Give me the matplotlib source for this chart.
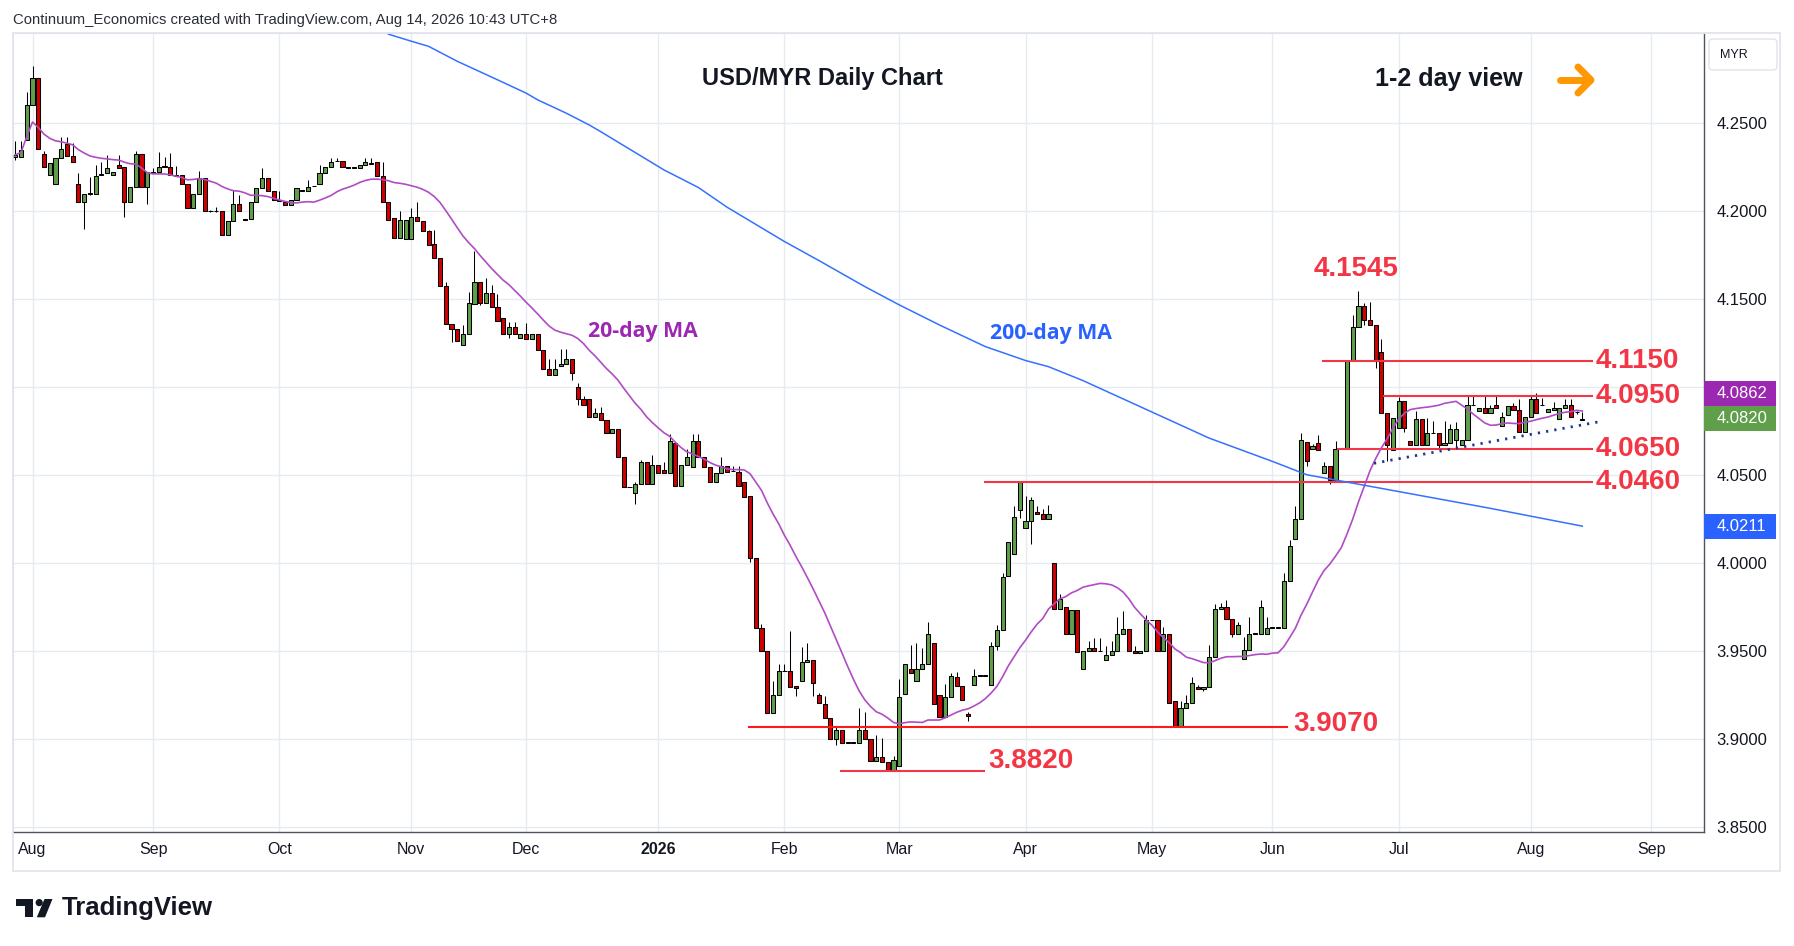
import numpy as np
import pandas as pd
import matplotlib
matplotlib.use("Agg")
import matplotlib.pyplot as plt
from matplotlib.patches import Rectangle, FancyBboxPatch, Circle, Polygon

plt.rcParams["font.family"] = ["Liberation Sans", "DejaVu Sans"]

# ==========================================
# USD/MYR DAILY DATA
# ==========================================

first_day = "2025-07-29"
last_day = "2026-08-14"

opens = [
    4.231, 4.231, 4.2405, 4.2601, 4.2757, 4.2325, 4.2205, 4.2155, 4.230, 4.238,
    4.2314, 4.2155, 4.205, 4.210, 4.210, 4.2205, 4.222, 4.2205, 4.2262, 4.2249,
    4.205, 4.214, 4.2325, 4.214, 4.2222, 4.2222, 4.2253, 4.2253, 4.2204, 4.2204,
    4.2155, 4.2021, 4.210, 4.219, 4.2002, 4.2002, 4.200, 4.1867, 4.1945, 4.204,
    4.1957, 4.1956, 4.205, 4.213, 4.219, 4.2116, 4.2065, 4.205, 4.2035, 4.2063,
    4.2118, 4.2116, 4.2145, 4.2155, 4.222, 4.2253, 4.2287, 4.2285, 4.2251, 4.2249,
    4.2245, 4.2262, 4.2274, 4.228, 4.220, 4.205, 4.196, 4.185, 4.184, 4.184,
    4.197, 4.1945, 4.189, 4.1814, 4.1733, 4.1576, 4.136, 4.133, 4.1241, 4.130,
    4.1472, 4.160, 4.1481, 4.1538, 4.1458, 4.1392, 4.130, 4.1341, 4.1278, 4.130,
    4.1273, 4.130, 4.1212, 4.1102, 4.107, 4.1121, 4.1131, 4.1159, 4.100, 4.0932,
    4.0932, 4.083, 4.0856, 4.0814, 4.0739, 4.0761, 4.0602, 4.0434, 4.0398, 4.0449,
    4.0578, 4.0449, 4.0559, 4.053, 4.0515, 4.0686, 4.044, 4.0559, 4.0549, 4.0697,
    4.0602, 4.0549, 4.046, 4.0515, 4.0553, 4.0525, 4.0519, 4.0462, 4.0381, 4.0029,
    3.9632, 3.950, 3.915, 3.9254, 3.9389, 3.9387, 3.930, 3.9334, 3.944, 3.9453,
    3.9254, 3.9203, 3.9122, 3.8999, 3.905, 3.8982, 3.8982, 3.898, 3.905, 3.8999,
    3.8876, 3.890, 3.8872, 3.8825, 3.8848, 3.9257, 3.940, 3.9334, 3.940, 3.9425,
    3.9547, 3.9254, 3.9128, 3.9241, 3.9356, 3.9303, 3.9141, 3.9311, 3.9364, 3.9364,
    3.9307, 3.9529, 3.9623, 3.9929, 4.0054, 4.0303, 4.0199, 4.024, 4.0291, 4.028,
    4.0252, 4.0002, 3.9741, 3.9751, 3.9601, 3.9732, 3.9401, 3.9501, 3.952, 3.9502,
    3.945, 3.948, 3.9501, 3.960, 3.9624, 3.9501, 3.9492, 3.9501, 3.9677, 3.9675,
    3.9501, 3.960, 3.9218, 3.9076, 3.918, 3.9205, 3.9299, 3.9284, 3.9299, 3.9469,
    3.9741, 3.9752, 3.9681, 3.960, 3.9454, 3.9507, 3.9602, 3.960, 3.960, 3.9636,
    3.9636, 3.9634, 3.9898, 4.0138, 4.0252, 4.0688, 4.065, 4.0682, 4.0515, 4.055,
    4.0474, 4.0652, 4.065, 4.115, 4.1341, 4.1462, 4.1383, 4.1352, 4.1199, 4.0852,
    4.0644, 4.0767, 4.0922, 4.0697, 4.0672, 4.082, 4.0672, 4.0741, 4.0739, 4.0672,
    4.0686, 4.0701, 4.0672, 4.0701, 4.0902, 4.0863, 4.0881, 4.0853, 4.090, 4.078,
    4.0843, 4.0894, 4.0871, 4.0748, 4.083, 4.0932, 4.0902, 4.0858, 4.0871, 4.082,
    4.0881, 4.09, 4.0858, 4.0816,
]

# None = no wick beyond the body
highs = [
    4.240, 4.240, 4.268, 4.2823, None, 4.234, None, None, 4.242, 4.242,
    4.239, 4.222, None, 4.2196, 4.226, 4.2282, 4.232, None, 4.232, None,
    None, 4.234, None, None, 4.2245, 4.2335, 4.231, 4.233, 4.2258, None,
    None, None, 4.223, None, 4.2008, 4.2025, None, None, 4.212, 4.209,
    None, None, None, 4.2245, None, None, 4.2116, None, None, None,
    None, 4.218, None, 4.226, None, 4.230, 4.230, None, None, None,
    None, 4.230, 4.230, None, 4.228, None, None, 4.200, None, 4.202,
    4.2054, None, 4.1895, 4.1894, None, 4.160, None, None, 4.1354, 4.1544,
    4.1776, None, 4.162, 4.158, 4.1529, None, 4.1373, 4.137, None, 4.1363,
    None, None, None, 4.1159, 4.1159, 4.1216, 4.1216, None, 4.1027, 4.095,
    None, 4.088, 4.089, None, None, None, None, None, 4.0459, 4.0587,
    None, 4.0616, None, 4.0578, 4.0737, None, None, 4.0649, 4.0737, 4.0737,
    None, None, None, 4.0606, None, 4.055, 4.0553, None, None, None,
    3.9655, None, 3.9334, 3.9425, 3.9425, 3.9613, None, 3.9526, 3.9545, None,
    3.9264, 3.9245, None, 3.9075, None, None, None, 3.9177, 3.9156, None,
    3.9025, 3.9005, None, 3.8904, 3.934, None, 3.9537, 3.9545, 3.9517, 3.9665,
    None, None, 3.9312, 3.9378, 3.9384, None, 3.9157, 3.940, None, None,
    3.9555, 3.9648, 3.9943, None, 4.0323, 4.0465, 4.0382, 4.0376, 4.0323, 4.0306,
    4.0331, None, 3.9826, None, None, None, None, 3.9558, 3.9577, 3.9577,
    3.953, 3.9558, 3.9693, 3.973, None, 3.9529, None, 3.9708, None, None,
    3.9637, None, None, 3.9218, 3.925, 3.9353, 3.9311, None, 3.9536, 3.9769,
    3.9772, 3.9792, None, 3.9665, 3.9583, 3.9694, None, 3.9792, 3.9694, None,
    None, 3.9944, 4.0133, 4.0325, 4.0738, None, 4.068, 4.0727, 4.0577, None,
    4.0695, None, None, 4.1409, 4.1545, 4.148, 4.1485, None, 4.1277, None,
    None, 4.0945, None, None, 4.0866, None, 4.0828, 4.0811, None, 4.0806,
    4.079, 4.0801, None, 4.0955, 4.0955, None, 4.0955, 4.0902, 4.0955, 4.086,
    None, 4.091, 4.0935, None, 4.0955, 4.0966, 4.0937, None, 4.0918, None,
    4.0935, 4.0935, 4.0866, 4.0858,
]

lows = [
    4.229, None, None, None, None, None, None, None, None, None,
    None, None, 4.190, 4.2095, None, None, None, None, None, 4.197,
    None, None, None, 4.204, 4.2215, None, None, None, None, None,
    None, None, None, None, 4.1995, 4.1995, None, None, None, None,
    None, None, None, None, None, None, None, None, None, None,
    None, None, None, None, None, None, None, None, None, None,
    None, None, None, None, None, None, None, None, None, None,
    None, None, None, None, None, None, 4.126, None, None, None,
    None, 4.147, None, None, None, None, 4.128, None, None, None,
    None, None, None, None, None, None, None, 4.104, 4.090, None,
    None, None, None, None, None, None, None, None, 4.0335, None,
    None, None, None, None, None, None, None, None, None, None,
    None, None, None, None, None, None, None, None, 4.0006, None,
    None, None, None, None, None, None, 3.9245, None, None, 3.9245,
    None, None, None, 3.8965, None, None, None, None, None, None,
    None, None, 3.882, None, None, None, None, None, None, None,
    None, None, None, None, None, None, 3.9105, None, None, None,
    None, 3.9505, None, None, None, 4.0257, None, 4.0112, None, None,
    None, None, None, None, None, None, None, None, None, None,
    None, None, None, None, None, None, None, None, None, None,
    None, None, 3.907, None, None, None, None, 3.9277, None, None,
    None, None, 3.958, None, None, None, None, None, None, None,
    None, None, None, None, None, 4.055, None, None, None, 4.045,
    None, None, None, None, None, 4.1356, None, 4.111, None, 4.0583,
    None, None, 4.0748, None, None, None, None, None, 4.0653, None,
    None, 4.0659, None, None, None, None, None, None, None, None,
    None, None, None, None, None, None, None, None, None, None,
    None, None, 4.085, None,
]

closes = [
    4.232, 4.235, 4.2601, 4.2757, 4.2352, 4.2249, 4.2272, 4.230, 4.2352, 4.2314,
    4.2282, 4.205, 4.210, 4.2102, 4.220, 4.221, 4.2245, 4.2223, 4.2247, 4.205,
    4.214, 4.2325, 4.214, 4.2225, 4.2220, 4.2253, 4.2255, 4.2204, 4.2202, 4.2155,
    4.2021, 4.210, 4.219, 4.200, 4.2000, 4.2000, 4.1867, 4.1945, 4.204, 4.200,
    4.1950, 4.205, 4.213, 4.219, 4.2116, 4.2063, 4.2061, 4.2035, 4.2063, 4.213,
    4.2114, 4.214, 4.2141, 4.222, 4.225, 4.2282, 4.2283, 4.2249, 4.2247, 4.2245,
    4.2262, 4.228, 4.2270, 4.220, 4.205, 4.195, 4.185, 4.195, 4.195, 4.197,
    4.1945, 4.189, 4.181, 4.1733, 4.1576, 4.136, 4.133, 4.1263, 4.130, 4.1481,
    4.160, 4.1481, 4.1538, 4.1458, 4.1379, 4.130, 4.1341, 4.130, 4.130, 4.1273,
    4.130, 4.1212, 4.1102, 4.107, 4.1102, 4.1131, 4.1159, 4.108, 4.0932, 4.090,
    4.083, 4.0856, 4.0814, 4.0739, 4.0761, 4.0602, 4.0432, 4.0432, 4.0449, 4.0578,
    4.0449, 4.0559, 4.0515, 4.0515, 4.0697, 4.044, 4.0559, 4.0602, 4.0697, 4.0602,
    4.0549, 4.046, 4.0515, 4.0553, 4.0519, 4.0523, 4.044, 4.0379, 4.0029, 3.9632,
    3.950, 3.915, 3.9254, 3.9387, 3.9387, 3.9298, 3.9294, 3.944, 3.9453, 3.932,
    3.9207, 3.9122, 3.8999, 3.905, 3.898, 3.898, 3.898, 3.905, 3.8999, 3.8876,
    3.890, 3.8872, 3.8825, 3.888, 3.924, 3.9428, 3.9378, 3.940, 3.9425, 3.9598,
    3.9203, 3.9128, 3.9241, 3.9362, 3.9303, 3.9223, 3.9132, 3.9362, 3.9362, 3.9362,
    3.9529, 3.9623, 3.9922, 4.012, 4.0262, 4.0461, 4.024, 4.0357, 4.028, 4.0252,
    4.028, 3.9741, 3.9798, 3.9601, 3.9732, 3.9496, 3.9501, 3.952, 3.9501, 3.950,
    3.948, 3.9501, 3.960, 3.9624, 3.9501, 3.9492, 3.9501, 3.9675, 3.9675, 3.9501,
    3.960, 3.9205, 3.9076, 3.918, 3.9205, 3.9322, 3.9284, 3.9299, 3.9469, 3.9741,
    3.9752, 3.9681, 3.960, 3.9649, 3.9507, 3.960, 3.960, 3.9752, 3.9634, 3.9634,
    3.9634, 3.9898, 4.0097, 4.0252, 4.0701, 4.0579, 4.0665, 4.0644, 4.055, 4.0474,
    4.065, 4.065, 4.115, 4.1341, 4.1462, 4.1383, 4.1352, 4.115, 4.0852, 4.0672,
    4.0824, 4.0922, 4.0767, 4.0672, 4.082, 4.0672, 4.0739, 4.0739, 4.0672, 4.0686,
    4.0763, 4.0763, 4.0701, 4.090, 4.090, 4.0881, 4.0853, 4.0881, 4.0881, 4.0833,
    4.0896, 4.0871, 4.0748, 4.083, 4.0932, 4.0852, 4.090, 4.0875, 4.0881, 4.0881,
    4.09, 4.083, 4.0858, 4.0820,
]

# 200-day MA read at a few dates (needs history before the window)
ma200_dates = [
    "2025-10-28", "2025-11-03", "2025-11-06", "2025-11-13", "2025-11-24",
    "2025-12-01", "2025-12-03", "2025-12-10", "2025-12-16", "2025-12-18",
    "2026-01-02", "2026-01-12", "2026-01-19", "2026-02-02", "2026-02-10",
    "2026-02-20", "2026-03-02", "2026-03-11", "2026-03-23", "2026-04-01",
    "2026-04-07", "2026-04-15", "2026-05-06", "2026-05-15", "2026-06-01",
    "2026-06-09", "2026-07-23", "2026-08-14",
]
ma200_vals = [
    4.3006, 4.2966, 4.2937, 4.2852, 4.2747,
    4.2671, 4.2633, 4.2557, 4.2490, 4.2452,
    4.2235, 4.2135, 4.2023, 4.1828, 4.1720,
    4.1572, 4.1468, 4.1354, 4.1231, 4.1152,
    4.1117, 4.1038, 4.0815, 4.0711, 4.0579,
    4.0503, 4.0312, 4.0211,
]

ma20_tag = 4.0862

levels = [4.1150, 4.0950, 4.0650, 4.0460, 3.9070, 3.8820]
peak_level = 4.1545
trend_vals = [4.0568, 4.0805]

month_labels = ["Aug", "Sep", "Oct", "Nov", "Dec", "2026", "Feb",
                "Mar", "Apr", "May", "Jun", "Jul", "Aug", "Sep"]
price_ticks = [3.85, 3.90, 3.95, 4.00, 4.05, 4.10, 4.15, 4.20, 4.25]

# ==========================================
# PREP
# ==========================================

days = pd.bdate_range(first_day, last_day)
ext_days = pd.bdate_range(first_day, "2026-10-30")
n = len(days)
assert n == len(opens) == len(highs) == len(lows) == len(closes)

O = np.array(opens)
C = np.array(closes)
Hh = np.fmax(np.array(highs, dtype=float), np.maximum(O, C))
Ll = np.fmin(np.array(lows, dtype=float), np.minimum(O, C))
x = np.arange(n)

ma20 = pd.Series(C).rolling(20, min_periods=1).mean()
ma200_x = [ext_days.get_loc(pd.Timestamp(d)) for d in ma200_dates]

month_pos = [ext_days.searchsorted(m) for m in
             pd.date_range("2025-08-01", "2026-09-01", freq="MS")]

# ==========================================
# STYLE
# ==========================================

GREEN = "#5f9f4a"
RED = "#d00000"
LINE_RED = "#f23645"
GRID = "#e6ebf1"
TXT = "#131722"

W, H = 1794, 946
L_px, R_px, T_px, B_px = 12.7, 1704.3, 33.3, 831.7

fig = plt.figure(figsize=(W / 100, H / 100), dpi=100)
fig.patch.set_facecolor("white")

ax = fig.add_axes([L_px / W, 1 - B_px / H, (R_px - L_px) / W, (B_px - T_px) / H])
ax.set_xlim(-0.45, 294.25)
ax.set_ylim(3.8475, 4.3011)

# ==========================================
# CANDLES
# ==========================================

up = C >= O
ax.vlines(x, Ll, Hh, color="black", linewidth=0.75, zorder=2)
ax.bar(x, np.abs(C - O), bottom=np.minimum(O, C), width=0.72,
       color=np.where(up, GREEN, RED), edgecolor="black", linewidth=0.75, zorder=3)

# ==========================================
# MOVING AVERAGES
# ==========================================

ax.plot(x, ma20, color="#b04cc4", linewidth=1.2, zorder=5)
ax.plot(ma200_x, ma200_vals, color="#3471ff", linewidth=1.1, zorder=5)

# ==========================================
# LEVELS + TRENDLINE
# ==========================================

level_spans = [(227.6, 274.9), (238.2, 274.9), (230.3, 274.9),
               (168.8, 274.9), (127.7, 221.8), (143.7, 168.9)]
level_cols = [LINE_RED, LINE_RED, LINE_RED, LINE_RED, "#ff1a1a", LINE_RED]

for lv, (x0, x1), col in zip(levels, level_spans, level_cols):
    ax.hlines(lv, x0, x1, color=col, linewidth=1.5, zorder=4)

lab_font = dict(fontsize=20, fontweight="bold", color=LINE_RED, clip_on=False, zorder=6)
for lv in levels[:4]:
    ax.text(275.3, lv, f"{lv:.4f}", ha="left", va="center", **lab_font)
ax.text(222.6, levels[4] + 0.0015, f"{levels[4]:.4f}", ha="left", va="center", **lab_font)
ax.text(169.6, levels[5] + 0.0057, f"{levels[5]:.4f}", ha="left", va="center", **lab_font)
ax.text(233.6, peak_level + 0.0127, f"{peak_level:.4f}", ha="center", va="center", **lab_font)

ax.plot([236.7, 276.1], trend_vals, color="#22358f", linewidth=2.0,
        linestyle=(0, (0.8, 2.2)), zorder=5)

# ==========================================
# AXES
# ==========================================

ax.set_xticks(month_pos)
ax.set_xticklabels(month_labels)
for t in ax.get_xticklabels():
    if t.get_text() == "2026":
        t.set_fontweight("bold")
ax.tick_params(axis="x", length=0, pad=7.5, labelsize=11.5, labelcolor=TXT)

ax.yaxis.tick_right()
ax.set_yticks(price_ticks)
ax.set_yticklabels([f"{p:.4f}" for p in price_ticks])
ax.tick_params(axis="y", length=0, pad=9, labelsize=12, labelcolor=TXT)

ax.grid(True, color=GRID, linewidth=1.0, zorder=0)
ax.set_axisbelow(True)
for s in ["left", "top"]:
    ax.spines[s].set_color("#e0e3eb")
for s in ["right", "bottom"]:
    ax.spines[s].set_color("#50535e")
    ax.spines[s].set_linewidth(1.0)

# price tags on the scale
tag_h = 25 / 1760
tag_w = 72 / (R_px - L_px)
ytr = ax.get_yaxis_transform()
last_close = C[-1]
tags = [
    (last_close, GREEN, f"{last_close:.4f}"),
    (max(ma20_tag, last_close + tag_h), "#9c27b0", f"{ma20_tag:.4f}"),
    (ma200_vals[-1], "#2962ff", f"{ma200_vals[-1]:.4f}"),
]
for yv, col, txt in tags:
    ax.add_patch(Rectangle((1.0, yv - tag_h / 2), tag_w, tag_h, transform=ytr,
                           facecolor=col, edgecolor="none", clip_on=False, zorder=7))
    ax.text(1.0 + 12 / (R_px - L_px), yv, txt, transform=ytr, color="white",
            fontsize=12, ha="left", va="center", clip_on=False, zorder=8)

# ==========================================
# OVERLAY (pixel coords): frame, titles, logo
# ==========================================

ov = fig.add_axes([0, 0, 1, 1], zorder=10)
ov.set_xlim(0, W)
ov.set_ylim(H, 0)
ov.axis("off")
ov.patch.set_alpha(0)

ov.add_patch(Rectangle((L_px, T_px), 1780 - L_px, 870.7 - T_px, fill=False,
                       edgecolor="#e0e3eb", linewidth=1.2))
ov.add_patch(FancyBboxPatch((1709, 39), 68, 31, boxstyle="round,pad=0,rounding_size=4",
                            facecolor="white", edgecolor="#e0e3eb", linewidth=1.0))
ov.text(1720, 55, "MYR", fontsize=9, color=TXT, ha="left", va="center")

ov.text(13, 20, "Continuum_Economics created with TradingView.com, Aug 14, 2026 10:43 UTC+8",
        fontsize=10.7, color="#2a2e39", ha="left", va="center")

ov.text(822, 79, "USD/MYR Daily Chart", fontsize=17, fontweight="bold",
        color=TXT, ha="center", va="center")
ov.text(1375, 79, "1-2 day view", fontsize=18, fontweight="bold",
        color=TXT, ha="left", va="center")
arrow_kw = dict(color="#ff9800", linewidth=5, solid_capstyle="round", solid_joinstyle="round")
ov.plot([1560, 1590], [80, 80], **arrow_kw)
ov.plot([1578, 1591, 1578], [67, 80, 93], **arrow_kw)

ma_font = dict(fontsize=15.3, fontweight="bold", family=["Open Sans", "DejaVu Sans"])
ov.text(642.5, 331, "20-day MA", color="#9c27b0", ha="center", va="center", **ma_font)
ov.text(990, 333, "200-day MA", color="#2962ff", ha="left", va="center", **ma_font)

# TradingView logo
ov.add_patch(Rectangle((15.7, 899), 17.6, 7, color=TXT, linewidth=0))
ov.add_patch(Rectangle((25, 899), 8.3, 18.3, color=TXT, linewidth=0))
ov.add_patch(Circle((39.2, 902.6), 3.6, color=TXT, linewidth=0))
ov.add_patch(Polygon([(44.5, 899), (52.5, 899), (45, 917.3), (36.8, 917.3)],
                     closed=True, color=TXT, linewidth=0))
ov.text(61.5, 908, "TradingView", fontsize=18.5, fontweight="bold", color=TXT,
        ha="left", va="center")

fig.savefig("out.png", dpi=100, facecolor="white")
